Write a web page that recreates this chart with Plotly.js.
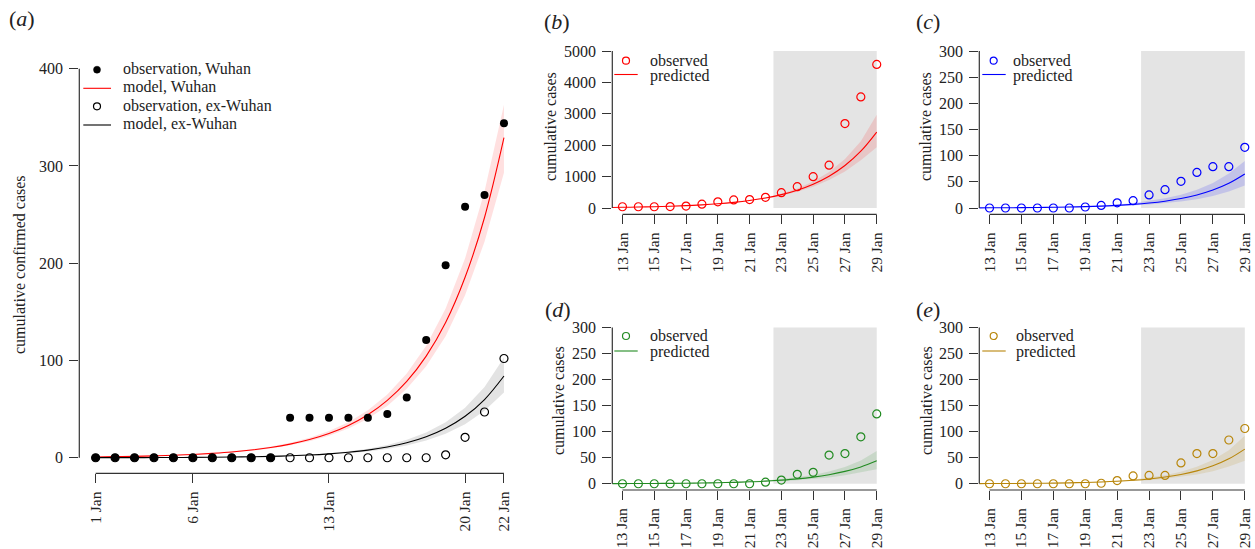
<!DOCTYPE html>
<html>
<head>
<meta charset="utf-8">
<script src="https://cdn.plot.ly/plotly-3.0.1.min.js"></script>
<style>html,body{margin:0;padding:0;background:#fff;}#chart{width:1255px;height:549px;}</style>
</head>
<body>
<div id="chart"></div>
<script>
// ---------- Panel (a) data ----------
const daysA = [1,2,3,4,5,6,7,8,9,10,11,12,13,14,15,16,17,18,19,20,21,22];
const obsWuhan = [0,0,0,0,0,0,0,0,0,0,41,41,41,41,41,45,62,121,198,258,270,344];
const obsExWuhan = [0,0,0,0,0,0,0,0,0,0,0,0,0,0,0,0,0,0,3,21,47,102];
const modelWuhan = [0.8,1.1,1.4,1.9,2.5,3.4,4.5,5.9,7.9,10.5,14.0,18.7,24.9,33.2,44.2,59,78.5,104.5,139,185.5,247,329];
const modelWuhanLo = [0.7,1.0,1.3,1.7,2.3,3.1,4.1,5.4,7.2,9.6,12.8,17.0,22.6,30.1,40.0,53.3,70.8,94.1,125,167,222,293];
const modelWuhanHi = [0.9,1.2,1.6,2.1,2.8,3.8,5.0,6.6,8.8,11.6,15.5,20.6,27.5,36.6,48.7,65.0,86.5,115.2,153.5,205,274,363];
const modelEx = [0.07,0.1,0.13,0.19,0.26,0.37,0.52,0.73,1.0,1.4,2.0,2.8,4.0,5.6,7.8,11.0,15.4,21.6,30.3,42.6,59.8,84];
const modelExLo = [0.06,0.08,0.11,0.16,0.22,0.31,0.44,0.62,0.85,1.2,1.7,2.4,3.4,4.7,6.5,9.1,12.7,17.7,24.7,34.5,48.2,67];
const modelExHi = [0.08,0.12,0.16,0.22,0.31,0.44,0.62,0.87,1.2,1.7,2.4,3.3,4.7,6.6,9.3,13.1,18.4,25.9,36.5,51.5,72.6,103];
const ticksXA = [1,6,13,20,22];
const tickLabelsXA = ["1 Jan","6 Jan","13 Jan","20 Jan","22 Jan"];
const ticksYA = [0,100,200,300,400];
const legendLabelsA = ["observation, Wuhan","model, Wuhan","observation, ex-Wuhan","model, ex-Wuhan"];

// ---------- Panels (b)-(e) data ----------
const daysObs = [13,14,15,16,17,18,19,20,21,22,23,24,25,26,27,28,29];
const daysPred = [12,13,14,15,16,17,18,19,20,21,22,23,24,25,26,27,28,29];
const ticksXP = [13,15,17,19,21,23,25,27,29];
const tickLabelsXP = ["13 Jan","15 Jan","17 Jan","19 Jan","21 Jan","23 Jan","25 Jan","27 Jan","29 Jan"];
const ticksYB = [0,1000,2000,3000,4000,5000];
const ticksYSmall = [0,50,100,150,200,250,300];
const predictionWindow = [22.5, 29];
const legendLabelsP = ["observed","predicted"];

// (b) red
const obsB = [41,41,41,45,62,121,198,258,270,340,490,680,1000,1365,2690,3540,4575];
const predB = [17,23,31,42,56,75,100,134,179,239,319,426,569,760,1015,1356,1811,2420];
const predBLo = [16,22,30,40,54,72,96,128,170,226,299,394,518,680,890,1165,1522,1940];
const predBHi = [18,24,32,44,58,78,104,140,188,252,340,458,620,842,1145,1560,2130,2975];
// (c) blue
const obsC = [0,0,0,0,0,0,2,5,10,14,25,35,51,68,79,79,116];
const predC = [0.28,0.39,0.54,0.74,1.0,1.4,1.9,2.65,3.65,5.0,6.9,9.5,13.1,18.1,24.9,34.3,47.2,65];
const predCLo = [0.22,0.31,0.43,0.59,0.8,1.1,1.5,2.1,2.9,3.5,4.8,6.5,9.0,12.3,16.8,23,31.5,43];
const predCHi = [0.34,0.47,0.65,0.9,1.22,1.7,2.35,3.3,4.5,6.8,9.5,13.5,18.5,25.5,35,48,66,90];
// (d) green
const obsD = [0,0,0,0,0,0,0,0,0,3,7,18,22,55,58,90,134];
const predD = [0.23,0.31,0.42,0.57,0.78,1.06,1.45,2.0,2.7,3.7,5.0,6.9,9.3,12.7,17.4,23.7,32.3,44];
const predDLo = [0.18,0.25,0.34,0.46,0.62,0.84,1.15,1.55,2.1,2.8,3.7,5.0,6.6,8.9,12.0,16.1,21.5,28];
const predDHi = [0.28,0.38,0.51,0.7,0.96,1.3,1.8,2.5,3.4,4.7,6.5,9.0,12.3,17.0,23.4,32.2,44.5,63];
// (e) gold
const obsE = [0,0,0,0,0,0,0,1,6,15,16,16,40,58,58,84,106];
const predE = [0.24,0.34,0.47,0.65,0.91,1.27,1.76,2.45,3.4,4.7,6.6,9.2,12.8,17.8,24.7,34.4,47.8,66.5];
const predELo = [0.19,0.27,0.37,0.52,0.72,1.0,1.38,1.9,2.6,3.6,5.0,6.8,9.4,12.9,17.6,24.2,33.2,44];
const predEHi = [0.29,0.41,0.57,0.79,1.1,1.55,2.15,3.0,4.2,5.9,8.3,11.7,16.5,23.2,32.5,45.8,64.2,92];

// ---------- styling ----------
const FONT = "Liberation Serif, Times New Roman, serif";
const TXT = "#222";
const AX = "#333";
const W = 1255, H = 549;
const px = v => v / W;
const py = v => 1 - v / H;
function pad(t){ const lo=t[0], hi=t[t.length-1], d=(hi-lo)*0.04; return [lo-d, hi+d]; }

const traces = [];
// Panel (a)
traces.push({x: daysA, y: modelWuhanLo, mode:'lines', line:{width:0}, hoverinfo:'skip', xaxis:'x', yaxis:'y'});
traces.push({x: daysA, y: modelWuhanHi, mode:'lines', line:{width:0}, fill:'tonexty', fillcolor:'rgba(255,0,0,0.12)', hoverinfo:'skip', xaxis:'x', yaxis:'y'});
traces.push({x: daysA, y: modelExLo, mode:'lines', line:{width:0}, hoverinfo:'skip', xaxis:'x', yaxis:'y'});
traces.push({x: daysA, y: modelExHi, mode:'lines', line:{width:0}, fill:'tonexty', fillcolor:'rgba(0,0,0,0.11)', hoverinfo:'skip', xaxis:'x', yaxis:'y'});
traces.push({x: daysA, y: modelWuhan, mode:'lines', name:legendLabelsA[1], line:{color:'red', width:1.1, shape:'spline'}, xaxis:'x', yaxis:'y'});
traces.push({x: daysA, y: modelEx, mode:'lines', name:legendLabelsA[3], line:{color:'black', width:1.1, shape:'spline'}, xaxis:'x', yaxis:'y'});
traces.push({x: daysA, y: obsExWuhan, mode:'markers', name:legendLabelsA[2], marker:{symbol:'circle-open', size:8, color:'black', line:{width:1.2}}, xaxis:'x', yaxis:'y'});
traces.push({x: daysA, y: obsWuhan, mode:'markers', name:legendLabelsA[0], marker:{symbol:'circle', size:8, color:'black'}, xaxis:'x', yaxis:'y'});

const panels = [
  {ax:'2', color:'red', band:'rgba(255,0,0,0.13)', obs:obsB, pred:predB, lo:predBLo, hi:predBHi},
  {ax:'3', color:'blue', band:'rgba(0,0,255,0.14)', obs:obsC, pred:predC, lo:predCLo, hi:predCHi},
  {ax:'4', color:'#228B22', band:'rgba(34,139,34,0.14)', obs:obsD, pred:predD, lo:predDLo, hi:predDHi},
  {ax:'5', color:'#B8860B', band:'rgba(184,134,11,0.15)', obs:obsE, pred:predE, lo:predELo, hi:predEHi}
];
panels.forEach(p => {
  const xa = 'x'+p.ax, ya = 'y'+p.ax;
  traces.push({x: daysPred, y: p.lo, mode:'lines', line:{width:0}, hoverinfo:'skip', xaxis:xa, yaxis:ya});
  traces.push({x: daysPred, y: p.hi, mode:'lines', line:{width:0}, fill:'tonexty', fillcolor:p.band, hoverinfo:'skip', xaxis:xa, yaxis:ya});
  traces.push({x: daysPred, y: p.pred, mode:'lines', name:legendLabelsP[1], line:{color:p.color, width:1.1, shape:'spline'}, xaxis:xa, yaxis:ya});
  traces.push({x: daysObs, y: p.obs, mode:'markers', name:legendLabelsP[0], marker:{symbol:'circle-open', size:8, color:p.color, line:{width:1.2}}, xaxis:xa, yaxis:ya});
});

function xAxis(domain, ticks, labels, anchor){
  return {domain: domain, range: pad(ticks), anchor: anchor, tickmode:'array', tickvals: ticks, ticktext: labels,
    tickangle: -90, ticks:'outside', ticklen: 9, tickcolor: AX, tickwidth: 1, ticklabelstandoff: 2,
    showline:false, zeroline:false, showgrid:false, tickfont:{family:FONT, size:15.5, color:TXT}, fixedrange:true};
}
function yAxis(domain, ticks, anchor){
  return {domain: domain, range: pad(ticks), anchor: anchor, tickmode:'array', tickvals: ticks,
    ticks:'outside', ticklen: 9, tickcolor: AX, tickwidth: 1, ticklabelstandoff: 3,
    showline:false, zeroline:false, showgrid:false, tickfont:{family:FONT, size:16, color:TXT}, fixedrange:true};
}

const dA = {x:[px(79.3), px(520.3)], y:[py(473.3), py(53.1)]};
const dTop = [py(214.3), py(44.8)];
const dBot = [py(490), py(321.2)];
const dLeftX = [px(612.3), px(886.9)];
const dRightX = [px(979.3), 1.0];

const layout = {
  width: W, height: H, margin:{l:0, r:0, t:0, b:0},
  paper_bgcolor:'#fff', plot_bgcolor:'rgba(0,0,0,0)',
  font:{family:FONT, size:16, color:TXT},
  showlegend: false,
  xaxis: xAxis(dA.x, ticksXA, tickLabelsXA, 'y'),
  yaxis: yAxis(dA.y, ticksYA, 'x'),
  xaxis2: xAxis(dLeftX, ticksXP, tickLabelsXP, 'y2'),
  yaxis2: yAxis(dTop, ticksYB, 'x2'),
  xaxis3: xAxis(dRightX, ticksXP, tickLabelsXP, 'y3'),
  yaxis3: yAxis(dTop, ticksYSmall, 'x3'),
  xaxis4: xAxis(dLeftX, ticksXP, tickLabelsXP, 'y4'),
  yaxis4: yAxis(dBot, ticksYSmall, 'x4'),
  xaxis5: xAxis(dRightX, ticksXP, tickLabelsXP, 'y5'),
  yaxis5: yAxis(dBot, ticksYSmall, 'x5'),
  shapes: [],
  annotations: []
};

// Axis lines spanning the tick range (R style)
function axisLines(sfx, tx, ty){
  layout.shapes.push({type:'line', xref:'x'+sfx, yref:'y'+sfx+' domain', x0:tx[0], x1:tx[tx.length-1], y0:0, y1:0, line:{color:AX, width:1.2}});
  layout.shapes.push({type:'line', xref:'x'+sfx+' domain', yref:'y'+sfx, x0:0, x1:0, y0:ty[0], y1:ty[ty.length-1], line:{color:AX, width:1.2}});
}
axisLines('', ticksXA, ticksYA);
axisLines('2', ticksXP, ticksYB);
axisLines('3', ticksXP, ticksYSmall);
axisLines('4', ticksXP, ticksYSmall);
axisLines('5', ticksXP, ticksYSmall);

// Prediction-window shading
[['2', ticksYB], ['3', ticksYSmall], ['4', ticksYSmall], ['5', ticksYSmall]].forEach(([s, ty]) => {
  layout.shapes.push({type:'rect', xref:'x'+s, yref:'y'+s, x0:predictionWindow[0], x1:predictionWindow[1], y0:ty[0], y1:ty[ty.length-1], fillcolor:'#E4E4E4', line:{width:0}, layer:'below'});
});

// Legend keys (drawn as decoration in pixel positions)
function legText(text, x, y){
  layout.annotations.push({text:text, xref:'paper', yref:'paper', x:px(x), y:py(y), xanchor:'left', yanchor:'middle', showarrow:false, font:{family:FONT, size:16, color:TXT}});
}
function legDot(cx, cy, color, filled){
  layout.shapes.push({type:'circle', xref:'paper', yref:'paper', xsizemode:'pixel', ysizemode:'pixel', xanchor:px(cx), yanchor:py(cy),
    x0:-3.5, x1:3.5, y0:-3.5, y1:3.5, line:{color:color, width: filled?0.5:1.2}, fillcolor: filled?color:'rgba(0,0,0,0)'});
}
function legLine(x0, x1, y, color){
  layout.shapes.push({type:'line', xref:'paper', yref:'paper', x0:px(x0), x1:px(x1), y0:py(y), y1:py(y), line:{color:color, width:1.1}});
}
// (a)
legDot(97, 69.7, 'black', true);   legText(legendLabelsA[0], 121, 68.5);
legLine(83.3, 111, 88.3, 'red');   legText(legendLabelsA[1], 121, 87);
legDot(97, 106.3, 'black', false); legText(legendLabelsA[2], 121, 105.3);
legLine(83.3, 111, 125, 'black');  legText(legendLabelsA[3], 121, 123.5);
// (b)-(e)
[
  {c:'red',     dx:626,   lx0:614.3, lx1:637.7, tx:648, y0:60.7, y1:74.5},
  {c:'blue',    dx:993.7, lx0:982.3, lx1:1005.7, tx:1010.5, y0:60.7, y1:74.5},
  {c:'#228B22', dx:626,   lx0:614.3, lx1:637.7, tx:648, y0:336, y1:351},
  {c:'#B8860B', dx:993.7, lx0:982.3, lx1:1005.7, tx:1013.5, y0:336, y1:351}
].forEach(L => {
  legDot(L.dx, L.y0, L.c, false); legText(legendLabelsP[0], L.tx, L.y0 - 0.5);
  legLine(L.lx0, L.lx1, L.y1, L.c); legText(legendLabelsP[1], L.tx, L.y1 + 1);
});

// Axis titles
function ytitle(text, x, y){
  layout.annotations.push({text:text, xref:'paper', yref:'paper', x:px(x), y:py(y), xanchor:'center', yanchor:'middle', textangle:-90, showarrow:false, font:{family:FONT, size:16, color:TXT}});
}
ytitle('cumulative confirmed cases', 19, 265);
ytitle('cumulative cases', 551, 127);
ytitle('cumulative cases', 926, 127);
ytitle('cumulative cases', 558, 401);
ytitle('cumulative cases', 926, 401);

// Panel labels
function plabel(letter, x, y){
  layout.annotations.push({text:'(<i>'+letter+'</i>)', xref:'paper', yref:'paper', x:px(x), y:py(y), xanchor:'center', yanchor:'middle', showarrow:false, font:{family:FONT, size:22, color:TXT}});
}
plabel('a', 22, 19);
plabel('b', 557, 22);
plabel('c', 928, 22);
plabel('d', 558, 309);
plabel('e', 928, 309);

Plotly.newPlot('chart', traces, layout, {displayModeBar:false, staticPlot:true});
</script>
</body>
</html>
